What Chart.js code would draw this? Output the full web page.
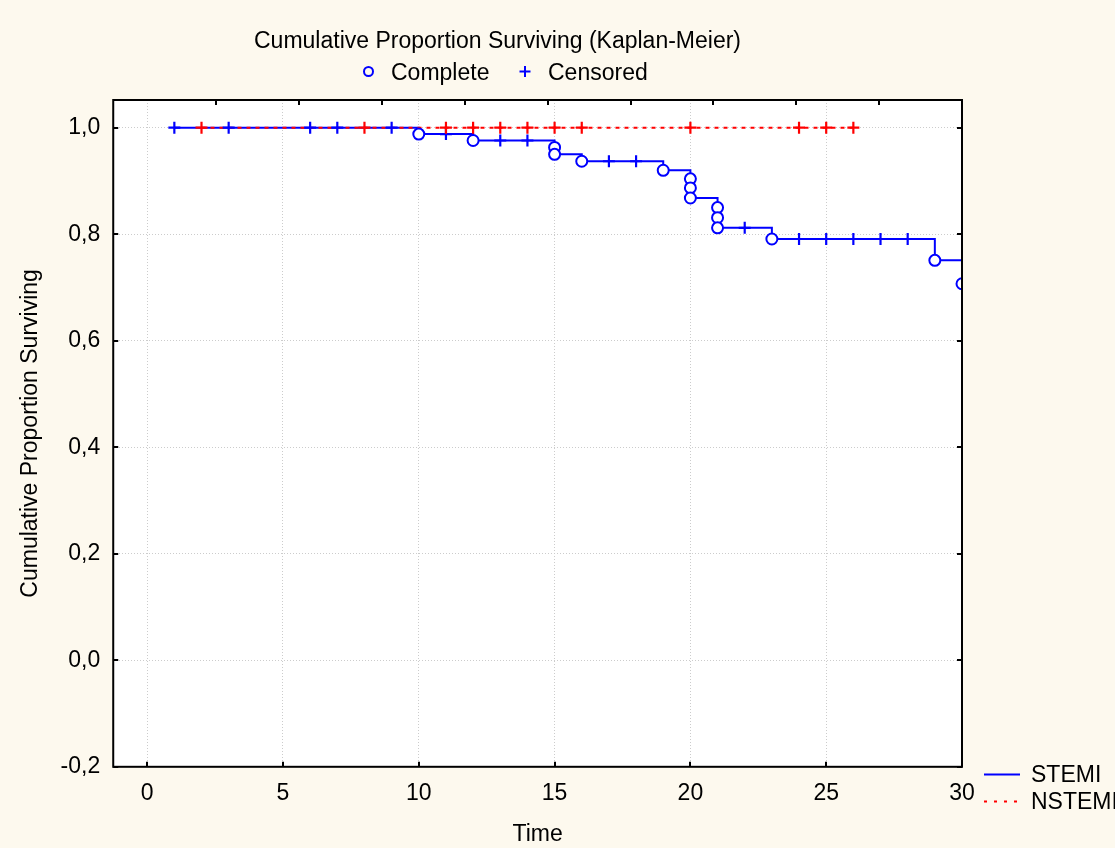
<!DOCTYPE html>
<html>
<head>
<meta charset="utf-8">
<title>Cumulative Proportion Surviving (Kaplan-Meier)</title>
<script src="https://cdn.jsdelivr.net/npm/chart.js@4"></script>
<style>
  body { margin: 0; background: #fdf9ee; }
  #wrap { width: 1115px; height: 848px; position: relative; }
</style>
</head>
<body>
<div id="wrap"><canvas id="km"></canvas></div>
<script>
// axis ticks
const xTicks = [0, 5, 10, 15, 20, 25, 30];
const yTicks = [-0.2, 0, 0.2, 0.4, 0.6, 0.8, 1.0];
const topTicks = [2.55, 5.6, 8.65, 11.7, 14.75, 17.8, 20.85, 23.9, 26.95];

// STEMI: complete (event) observations
const stemiEventTimes  = [10, 12, 15, 15, 16, 19, 20, 20, 20, 21, 21, 21, 23, 29, 30];
const stemiEventValues = [0.988, 0.976, 0.963, 0.950, 0.937, 0.920, 0.904, 0.887, 0.868, 0.850, 0.831, 0.812, 0.791, 0.751, 0.707];
// STEMI: censored observations
const stemiCensorTimes  = [1, 3, 6, 7, 9, 11, 13, 14, 17, 18, 22, 24, 25, 26, 27, 28];
const stemiCensorValues = [1, 1, 1, 1, 1, 0.988, 0.976, 0.976, 0.937, 0.937, 0.812, 0.791, 0.791, 0.791, 0.791, 0.791];
// NSTEMI: censored only
const nstemiCensorTimes  = [2, 8, 11, 12, 13, 14, 15, 16, 20, 24, 25, 26];
const nstemiCensorValues = [1, 1, 1, 1, 1, 1, 1, 1, 1, 1, 1, 1];

const BLUE = '#0000ff';
const RED = '#ff0000';
const FONT = '"Liberation Sans", Arial, sans-serif';

function pts(ts, vs) {
    return ts.map((t, i) => ({ x: t, y: vs[i] }));
}

// step curve goes through every observation, in time order
function curve(ts1, vs1, ts2, vs2) {
    return pts(ts1, vs1).concat(pts(ts2, vs2))
        .sort((a, b) => a.x - b.x || b.y - a.y);
}

const fmt = v => v.toFixed(1).replace('.', ',').replace('-0,0', '0,0');

// background, frame, inner ticks and the two legends
const decor = {
    id: 'decor',
    beforeDraw(chart) {
        const { ctx, chartArea: a } = chart;
        ctx.save();
        ctx.fillStyle = '#fdf9ee';
        ctx.fillRect(0, 0, chart.width, chart.height);
        ctx.fillStyle = '#ffffff';
        ctx.fillRect(a.left, a.top, a.right - a.left, a.bottom - a.top);
        ctx.restore();
    },
    afterDatasetsDraw(chart) {
        const { ctx, chartArea: a, scales } = chart;
        ctx.save();
        ctx.strokeStyle = '#000';
        ctx.lineWidth = 2;
        ctx.strokeRect(a.left, a.top, a.right - a.left, a.bottom - a.top);
        ctx.beginPath();
        xTicks.forEach(v => {
            const px = Math.round(scales.x.getPixelForValue(v));
            ctx.moveTo(px, a.bottom); ctx.lineTo(px, a.bottom - 5);
        });
        topTicks.forEach(v => {
            const px = Math.round(scales.x.getPixelForValue(v));
            ctx.moveTo(px, a.top); ctx.lineTo(px, a.top + 5);
        });
        yTicks.forEach(v => {
            const py = Math.round(scales.y.getPixelForValue(v));
            ctx.moveTo(a.left, py); ctx.lineTo(a.left + 5, py);
            ctx.moveTo(a.right, py); ctx.lineTo(a.right - 5, py);
        });
        ctx.stroke();
        ctx.restore();
    },
    afterDraw(chart) {
        const ctx = chart.ctx;
        ctx.save();
        ctx.fillStyle = '#000';
        ctx.font = '23px ' + FONT;
        ctx.textBaseline = 'alphabetic';
        ctx.textAlign = 'center';
        ctx.fillText('Cumulative Proportion Surviving (Kaplan-Meier)', 497.5, 47.5);

        ctx.textAlign = 'left';
        // Complete
        ctx.strokeStyle = BLUE;
        ctx.lineWidth = 2;
        ctx.beginPath();
        ctx.arc(368.5, 71.5, 4.5, 0, Math.PI * 2);
        ctx.stroke();
        ctx.fillText('Complete', 391, 79.5);
        // Censored
        ctx.beginPath();
        ctx.moveTo(519.5, 71.5); ctx.lineTo(530.5, 71.5);
        ctx.moveTo(525, 66); ctx.lineTo(525, 77);
        ctx.stroke();
        ctx.fillText('Censored', 548, 79.5);

        // group legend
        ctx.beginPath();
        ctx.moveTo(984, 774.5); ctx.lineTo(1020, 774.5);
        ctx.stroke();
        ctx.fillText('STEMI', 1031, 782);
        ctx.strokeStyle = RED;
        ctx.setLineDash([3, 7]);
        ctx.beginPath();
        ctx.moveTo(984, 801.5); ctx.lineTo(1020, 801.5);
        ctx.stroke();
        ctx.setLineDash([]);
        ctx.fillText('NSTEMI', 1031, 809);
        ctx.restore();
    }
};

Chart.defaults.font.family = FONT;
Chart.defaults.font.size = 23;
Chart.defaults.color = '#000';

new Chart(document.getElementById('km'), {
    type: 'scatter',
    data: {
        datasets: [
            {
                label: 'STEMI',
                data: curve(stemiCensorTimes, stemiCensorValues, stemiEventTimes, stemiEventValues),
                showLine: true,
                stepped: 'before',
                borderColor: BLUE,
                borderWidth: 2,
                pointRadius: 0,
                order: 5
            },
            {
                label: 'NSTEMI',
                data: curve(nstemiCensorTimes, nstemiCensorValues, [], []),
                showLine: true,
                stepped: 'before',
                borderColor: RED,
                borderWidth: 2,
                borderDash: [4, 5],
                pointRadius: 0,
                order: 4
            },
            {
                label: 'STEMI censored',
                data: pts(stemiCensorTimes, stemiCensorValues),
                pointStyle: 'cross',
                pointRadius: 6,
                borderColor: BLUE,
                borderWidth: 2.2,
                order: 3
            },
            {
                label: 'NSTEMI censored',
                data: pts(nstemiCensorTimes, nstemiCensorValues),
                pointStyle: 'cross',
                pointRadius: 6,
                borderColor: RED,
                borderWidth: 2.2,
                order: 2
            },
            {
                label: 'STEMI complete',
                data: pts(stemiEventTimes, stemiEventValues),
                pointStyle: 'circle',
                pointRadius: 5.5,
                borderColor: BLUE,
                backgroundColor: '#ffffff',
                borderWidth: 2,
                order: 1
            }
        ]
    },
    options: {
        responsive: true,
        maintainAspectRatio: false,
        animation: false,
        layout: { padding: { top: 100, right: 153, left: 0, bottom: 0 } },
        plugins: {
            legend: { display: false },
            tooltip: { enabled: false },
            title: { display: false }
        },
        scales: {
            x: {
                type: 'linear',
                min: -1.25,
                max: 30,
                afterBuildTicks: s => { s.ticks = xTicks.map(v => ({ value: v })); },
                ticks: { padding: 13, maxRotation: 0, autoSkip: false, color: '#000', callback: v => String(v) },
                grid: { color: '#cccccc', lineWidth: 1, drawTicks: false },
                border: { display: false, dash: [1, 2] },
                title: { display: true, text: 'Time', color: '#000', padding: { top: 0, bottom: 0 } }
            },
            y: {
                type: 'linear',
                min: -0.2,
                max: 1.052,
                afterBuildTicks: s => { s.ticks = yTicks.map(v => ({ value: v })); },
                ticks: { padding: 13, color: '#000', callback: v => fmt(v) },
                grid: { color: '#cccccc', lineWidth: 1, drawTicks: false },
                border: { display: false, dash: [1, 2] },
                title: { display: true, text: 'Cumulative Proportion Surviving', color: '#000', padding: { top: 17, bottom: 3 } }
            }
        }
    },
    plugins: [decor]
});
</script>
</body>
</html>
